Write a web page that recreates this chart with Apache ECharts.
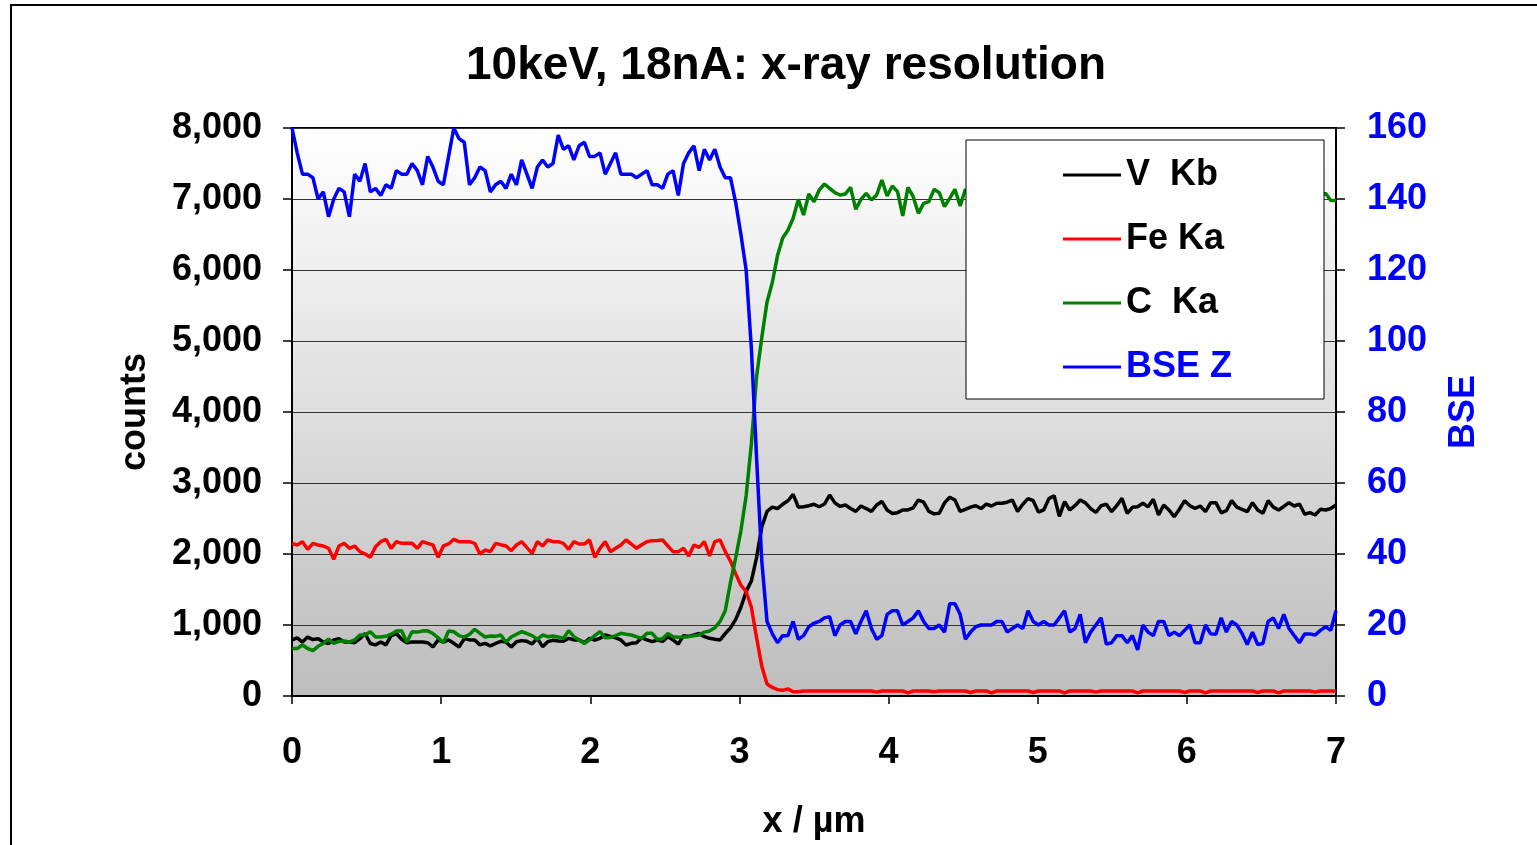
<!DOCTYPE html>
<html><head><meta charset="utf-8">
<script src="https://cdn.jsdelivr.net/npm/echarts@6/dist/echarts.min.js"></script>
<style>html,body{margin:0;padding:0;background:#fff}#c{width:1537px;height:845px}</style>
</head><body><div id="c"></div>
<script>
// sampling step along the line scan (µm)
const STEP = 0.035;
const titleText = '10keV, 18nA: x-ray resolution';
const seriesNames = ['V  Kb', 'Fe Ka', 'C  Ka', 'BSE Z'];

// V Kb counts
const vKb = [
790,820,760,830,795,805,760,740,790,808,
762,760,750,808,880,740,720,760,720,850,
880,800,750,762,760,762,750,690,790,760,
790,742,690,808,790,790,720,742,705,740,
770,760,690,765,780,770,735,812,695,765,
785,775,770,812,790,790,750,812,789,812,
859,840,820,789,718,742,751,820,790,765,
789,770,836,789,730,850,840,860,880,836,
812,800,790,880,960,1080,1250,1470,1620,1950,
2380,2600,2660,2640,2700,2750,2840,2660,2666,2680,
2700,2666,2704,2830,2720,2670,2690,2640,2600,2676,
2640,2600,2690,2740,2620,2570,2582,2620,2620,2650,
2760,2730,2600,2565,2573,2720,2800,2760,2600,2630,
2660,2680,2640,2704,2676,2714,2714,2730,2760,2600,
2700,2780,2751,2590,2620,2780,2820,2530,2737,2620,
2680,2760,2720,2640,2585,2680,2700,2596,2680,2784,
2573,2657,2666,2714,2666,2770,2549,2690,2620,2526,
2630,2751,2680,2643,2676,2596,2723,2723,2580,2610,
2751,2660,2629,2596,2723,2620,2573,2751,2660,2620,
2670,2723,2676,2704,2560,2582,2549,2629,2620,2640,
2690];

// Fe Ka counts
const feKa = [
2150,2127,2174,2066,2150,2127,2113,2080,1925,2113,
2150,2080,2113,2033,2000,1953,2103,2174,2207,2080,
2174,2150,2150,2150,2080,2174,2150,2127,1953,2113,
2141,2207,2174,2174,2174,2150,2000,2056,2033,2150,
2130,2113,2047,2127,2174,2090,2009,2174,2113,2197,
2174,2174,2150,2066,2174,2141,2141,2197,1953,2080,
2174,2033,2080,2127,2197,2141,2080,2130,2174,2188,
2190,2197,2113,2033,2033,2080,1972,2127,2094,2174,
1972,2174,2197,2033,1900,1720,1560,1470,1250,820,
420,170,120,90,80,100,60,60,70,70,
70,70,70,70,70,70,70,70,70,70,
70,70,55,70,70,70,70,70,45,70,
70,70,70,60,70,70,70,70,70,70,
50,70,70,70,45,70,70,70,70,70,
70,70,50,70,70,70,70,70,45,70,
70,70,70,70,55,70,70,70,70,70,
70,70,45,70,70,70,70,70,70,70,
70,50,70,70,70,45,70,70,70,70,
70,70,70,70,70,50,70,70,70,45,
70,70,70,70,70,70,55,70,70,70,
70];

// C Ka counts
const cKa = [
669,669,719,669,640,700,740,800,742,770,
775,761,790,860,860,905,831,831,840,870,
915,920,761,905,900,915,918,880,820,749,
915,905,850,830,868,939,883,831,845,840,
860,761,831,870,906,880,850,800,859,836,
845,830,812,920,836,789,740,790,850,906,
820,825,850,883,870,859,835,812,883,883,
798,805,880,836,826,830,836,850,860,900,
915,960,1050,1200,1600,1950,2330,2820,3550,4500,
5050,5550,5820,6200,6450,6560,6728,6995,6775,7070,
6962,7127,7211,7150,7089,7056,7070,7164,6855,6995,
7079,6986,7056,7267,7042,7183,7103,6761,7164,7033,
6798,6939,6962,7136,7089,6892,7009,7136,6901,7136,
7056,7120,7000,7080,7150,6950,7060,7110,7020,7090,
7180,7040,6980,7100,7060,7150,7010,6940,7080,7120,
7030,7090,7160,6990,7070,7040,7130,6970,7060,7100,
7020,7150,7080,6960,7050,7110,7000,7140,7070,6990,
7100,7060,7180,7010,7040,7120,6950,7080,7030,7100,
7060,7140,6990,7070,7110,7020,7090,6980,7130,7050,
7000,7080,7150,7030,7060,6990,7100,7040,7080,6980,
6980];

// BSE Z (right axis)
const bseZ = [
160,153,147,147,146,140,142,135,140,143,
142,135,147,145,150,142,143,141,144,143,
148,147,147,150,148,144,152,149,145,144,
152,160,157,156,144,146,149,148,142,144,
145,143,147,144,151,147,143,149,151,149,
150,158,154,155,151,155,156,152,152,153,
147,150,153,147,147,147,146,147,148,144,
144,143,147,148,141,150,153,155,148,154,
151,154,149,146,146,139,130,120,98,67,
38,21,17.6,15,17,17,21,16,17,19.5,
20.5,21,22,22.3,17,20,21,21,17.5,21,
24,19,16,17,23,24,24,20,21,22,
24,21,19,19,20,18,26,26,23,16,
18,19.5,20,20,20,21,21,18,19,20,
19,24,21,20,21,20,20,22,24,18,
19,23,15,18,20,22,14.6,15,17,17,
15,17,13,20,18,17,21,21,17,18,
17,18.5,20,15,15,20,17.5,17.4,22,18,
21,20,17.6,14.5,18,14.5,14.8,21,22,19,
23,19,17,15,17.5,17.5,17.2,18.5,19.5,18.5,
24];

const xPos = vKb.map((_, i) => +(i * STEP).toFixed(4));
const pairs = arr => arr.map((v, i) => [xPos[i], v]);

const FONT = 'Liberation Sans, Arial, sans-serif';
const chart = echarts.init(document.getElementById('c'), null, {renderer: 'canvas'});
const colors = ['#000000', '#ff0000', '#008000', '#0000ff'];
const allData = [vKb, feKa, cKa, bseZ];

chart.setOption({
  animation: false,
  backgroundColor: '#ffffff',
  title: {
    text: titleText, left: 466, top: 43, padding: 0,
    textStyle: {fontFamily: FONT, fontWeight: 'bold', fontSize: 46, color: '#000'}
  },
  graphic: [{
    type: 'rect', z: 0, silent: true,
    shape: {x: 11, y: 5, width: 1600, height: 900},
    style: {fill: 'none', stroke: '#000', lineWidth: 2}
  }],
  legend: {
    orient: 'vertical', left: 966, top: 140,
    padding: [15, 92, 12, 97],
    backgroundColor: '#ffffff', borderColor: '#000', borderWidth: 1,
    icon: 'rect', itemWidth: 58, itemHeight: 3, itemGap: 24,
    textStyle: {fontFamily: FONT, fontWeight: 'bold', fontSize: 36, color: '#000', lineHeight: 40},
    data: seriesNames.map((n, i) => i === 3 ? {name: n, textStyle: {color: '#0000ff'}} : {name: n})
  },
  grid: {
    left: 292, right: 201, top: 128, bottom: 149,
    show: true, borderColor: '#000', borderWidth: 2,
    backgroundColor: new echarts.graphic.LinearGradient(0, 0, 0, 1, [
      {offset: 0, color: '#ffffff'}, {offset: 1, color: '#bdbdbd'}
    ])
  },
  xAxis: {
    type: 'value', min: 0, max: 7, interval: 1,
    name: 'x / µm', nameLocation: 'middle', nameGap: 108,
    nameTextStyle: {fontFamily: FONT, fontWeight: 'bold', fontSize: 36, color: '#000'},
    axisLine: {show: true, lineStyle: {color: '#000', width: 2}},
    axisTick: {show: true, length: 8, lineStyle: {color: '#000', width: 1.5}},
    axisLabel: {margin: 39, fontFamily: FONT, fontWeight: 'bold', fontSize: 36, color: '#000'},
    splitLine: {show: false}
  },
  yAxis: [{
    type: 'value', min: 0, max: 8000, interval: 1000, position: 'left',
    name: 'counts', nameLocation: 'middle', nameGap: 139, nameRotate: 90,
    nameTextStyle: {fontFamily: FONT, fontWeight: 'bold', fontSize: 36, color: '#000'},
    axisLine: {show: true, lineStyle: {color: '#000', width: 2}},
    axisTick: {show: true, length: 9, lineStyle: {color: '#000', width: 1.5}},
    axisLabel: {margin: 30, fontFamily: FONT, fontWeight: 'bold', fontSize: 36, color: '#000',
      verticalAlign: 'middle', padding: [8, 0, 0, 0],
      formatter: v => v.toLocaleString('en-US')},
    splitLine: {show: true, lineStyle: {color: '#333', width: 1}}
  }, {
    type: 'value', min: 0, max: 160, interval: 20, position: 'right',
    name: 'BSE', nameLocation: 'middle', nameGap: 110, nameRotate: 90,
    nameTextStyle: {fontFamily: FONT, fontWeight: 'bold', fontSize: 36, color: '#0000ff'},
    axisLine: {show: true, lineStyle: {color: '#000', width: 2}},
    axisTick: {show: true, length: 9, lineStyle: {color: '#000', width: 1.5}},
    axisLabel: {margin: 31, fontFamily: FONT, fontWeight: 'bold', fontSize: 36, color: '#0000ff',
      verticalAlign: 'middle', padding: [8, 0, 0, 0]},
    splitLine: {show: false}
  }],
  series: seriesNames.map((n, i) => ({
    name: n, type: 'line', yAxisIndex: i === 3 ? 1 : 0,
    data: pairs(allData[i]), showSymbol: false, symbol: 'none',
    lineStyle: {color: colors[i], width: 3.5}, itemStyle: {color: colors[i]},
    emphasis: {disabled: true}
  }))
});
</script>
</body></html>
